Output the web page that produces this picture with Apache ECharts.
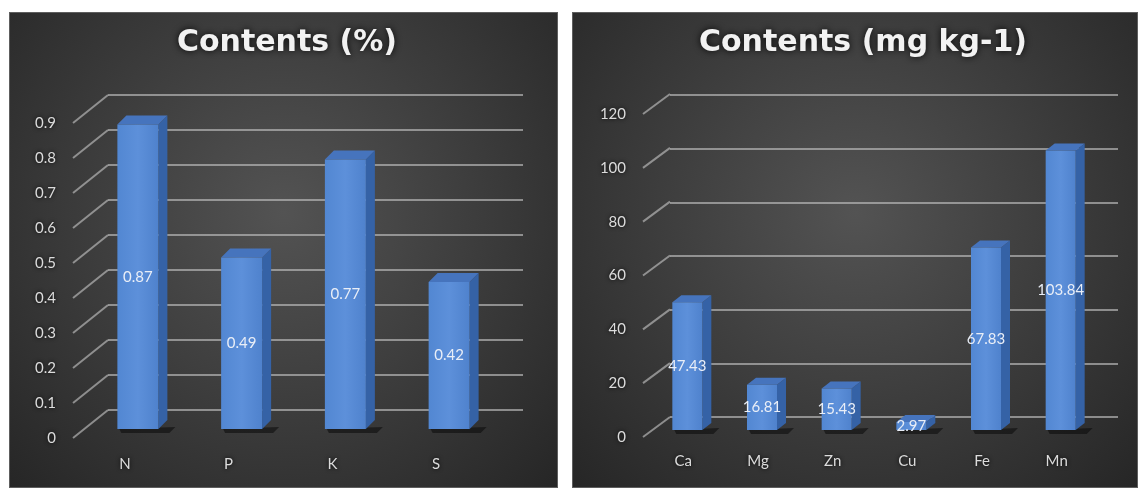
<!DOCTYPE html>
<html>
<head>
<meta charset="utf-8">
<script src="https://cdn.jsdelivr.net/npm/echarts@6/dist/echarts.min.js"></script>
<style>
  html, body { margin: 0; padding: 0; background: #fff; }
  .panel { position: absolute; top: 12px; height: 476px; border: 1px solid #5e5e5e; box-sizing: border-box;
    background: radial-gradient(ellipse at 50% 42%, #535353 0%, #3f3f3f 45%, #262626 100%); }
  #main { position: absolute; left: 0; top: 0; width: 1138px; height: 488px; }
</style>
</head>
<body>
<div class="panel" style="left:9px;width:549px;"></div>
<div class="panel" style="left:572px;width:566px;"></div>
<div id="main"></div>
<script>
// left chart: macro nutrients (%)
const macroNames = ['N', 'P', 'K', 'S'];
const macroValues = [0.87, 0.49, 0.77, 0.42];
const macroTicks = [0, 0.1, 0.2, 0.3, 0.4, 0.5, 0.6, 0.7, 0.8, 0.9];

// right chart: micro nutrients (mg kg-1)
const microNames = ['Ca', 'Mg', 'Zn', 'Cu', 'Fe', 'Mn'];
const microValues = [47.43, 16.81, 15.43, 2.97, 67.83, 103.84];
const microTicks = [0, 20, 40, 60, 80, 100, 120];

const chart = echarts.init(document.getElementById('main'));

const gridColor = 'rgba(190,190,190,0.65)';
const labelText = {
    color: '#dcdcdc',
    fontSize: 15,
    fontFamily: 'Lato',
    textShadowColor: 'rgba(0,0,0,0.9)',
    textShadowBlur: 4
};
const titleText = {
    color: '#f2f2f2',
    fontSize: 30,
    fontWeight: 'bold',
    fontFamily: 'DejaVu Sans',
    textShadowColor: 'rgba(0,0,0,0.9)',
    textShadowBlur: 7
};

// pseudo-3d bar: front face, right side, top
function bar3d(cfg) {
    return (params, api) => {
        const i = api.value(0);
        const v = api.value(1);
        const base = api.coord([i, 0]);
        const top = api.coord([i, v]);
        const cx = base[0] + cfg.dx;
        const x1 = cx - cfg.w / 2;
        const x2 = cx + cfg.w / 2;
        const y1 = top[1] + cfg.dy;
        const y2 = base[1] + cfg.dy;
        const ox = cfg.depthX, oy = cfg.depthY;
        return {
            type: 'group',
            children: [
                {
                    type: 'polygon',
                    shape: { points: [[x1 + 2, y2], [x2 + ox + 8, y2 - 2], [x2 + ox + 2, y2 + 4], [x1 + 4, y2 + 4]] },
                    style: { fill: 'rgba(10,10,10,0.55)' }
                },
                {
                    type: 'polygon',
                    shape: { points: [[x2, y1], [x2 + ox, y1 + oy], [x2 + ox, y2 + oy], [x2, y2]] },
                    style: { fill: '#3562a6' }
                },
                {
                    type: 'polygon',
                    shape: { points: [[x1, y1], [x1 + ox, y1 + oy], [x2 + ox, y1 + oy], [x2, y1]] },
                    style: { fill: '#4674bd' }
                },
                {
                    type: 'rect',
                    shape: { x: x1, y: y1, width: cfg.w, height: y2 - y1 },
                    style: {
                        fill: new echarts.graphic.LinearGradient(0, 0, 1, 0, [
                            { offset: 0, color: '#5287d2' },
                            { offset: 0.5, color: '#5d90da' },
                            { offset: 1, color: '#4f82cd' }
                        ])
                    }
                },
                {
                    type: 'text',
                    style: {
                        text: String(v),
                        x: cx,
                        y: (y1 + y2) / 2,
                        align: 'center',
                        verticalAlign: 'middle',
                        fill: '#e9eef7',
                        fontSize: 15,
                        fontFamily: 'Lato'
                    }
                }
            ]
        };
    };
}

// diagonal lines from the axis labels to the back wall
function connector(cfg) {
    return (params, api) => {
        const y = api.coord([0, api.value(1)])[1];
        const x = params.coordSys.x + cfg.start;
        return {
            type: 'line',
            shape: { x1: x, y1: y, x2: x + cfg.dx, y2: y + cfg.dy },
            style: { stroke: gridColor, lineWidth: 2 }
        };
    };
}

option = {
    animation: false,
    title: [
        { text: 'Contents (%)', left: 282, top: 23, textAlign: 'center', textStyle: titleText },
        { text: 'Contents (mg kg-1)', left: 858, top: 23, textAlign: 'center', textStyle: titleText }
    ],
    grid: [
        { left: 73, top: 123, width: 415, height: 315 },   // left front (labels)
        { left: 108, top: 95, width: 415, height: 315 },   // left back wall
        { left: 646, top: 114, width: 448, height: 323 },  // right front (labels)
        { left: 670, top: 95, width: 448, height: 322 }    // right back wall
    ],
    xAxis: [
        { gridIndex: 0, type: 'category', data: macroNames, axisLine: { show: false }, axisTick: { show: false },
            axisLabel: Object.assign({ margin: 19 }, labelText) },
        { gridIndex: 1, type: 'category', data: macroNames, show: false },
        { gridIndex: 2, type: 'category', data: microNames, axisLine: { show: false }, axisTick: { show: false },
            axisLabel: Object.assign({ margin: 17 }, labelText) },
        { gridIndex: 3, type: 'category', data: microNames, show: false }
    ],
    yAxis: [
        { gridIndex: 0, type: 'value', min: 0, max: 0.9, interval: 0.1, splitLine: { show: false },
            axisLabel: Object.assign({ margin: 17 }, labelText) },
        { gridIndex: 1, type: 'value', min: 0, max: 0.9, interval: 0.1, axisLabel: { show: false },
            splitLine: { lineStyle: { color: gridColor, width: 2 } } },
        { gridIndex: 2, type: 'value', min: 0, max: 120, interval: 20, splitLine: { show: false },
            axisLabel: Object.assign({ margin: 20 }, labelText) },
        { gridIndex: 3, type: 'value', min: 0, max: 120, interval: 20, axisLabel: { show: false },
            splitLine: { lineStyle: { color: gridColor, width: 2 } } }
    ],
    series: [
        {
            type: 'custom', xAxisIndex: 0, yAxisIndex: 0,
            renderItem: connector({ start: 0, dx: 35, dy: -28 }),
            data: macroTicks.map(t => [0, t])
        },
        {
            type: 'custom', xAxisIndex: 2, yAxisIndex: 2,
            renderItem: connector({ start: -3, dx: 27, dy: -20 }),
            data: microTicks.map(t => [0, t])
        },
        {
            type: 'custom', xAxisIndex: 0, yAxisIndex: 0, z: 5,
            renderItem: bar3d({ w: 41, dx: 13, dy: -9, depthX: 9, depthY: -9 }),
            data: macroValues.map((v, i) => [i, v])
        },
        {
            type: 'custom', xAxisIndex: 2, yAxisIndex: 2, z: 5,
            renderItem: bar3d({ w: 30, dx: 4, dy: -7, depthX: 9, depthY: -7 }),
            data: microValues.map((v, i) => [i, v])
        }
    ]
};

chart.setOption(option);
</script>
</body>
</html>
